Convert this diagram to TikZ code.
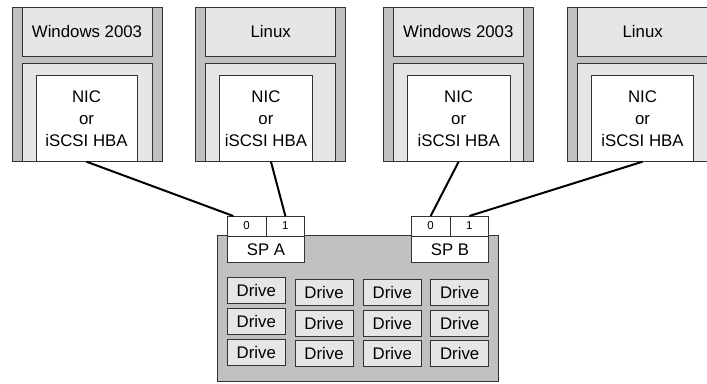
\documentclass[tikz,border=0pt]{standalone}
\usepackage{fontspec}
\setmainfont{Liberation Sans}
\definecolor{dk}{RGB}{192,192,192}
\definecolor{lt}{RGB}{230,230,230}
\definecolor{edge}{RGB}{50,50,50}
\begin{document}
\begin{tikzpicture}[x=1pt,y=-1pt,
  base/.style={draw=edge, line width=0.8pt, inner sep=0pt, outer sep=0pt, anchor=north west},
  strip/.style={base, fill=dk},
  panel/.style={base, fill=lt, font=\fontsize{16.8}{20}\selectfont},
  nic/.style={base, fill=white, align=center, font=\fontsize{16.8}{22}\selectfont},
  port/.style={base, fill=white, minimum width=38.7pt, minimum height=20pt, font=\fontsize{11.5}{13}\selectfont},
  splabel/.style={base, fill=white, minimum width=77.4pt, minimum height=26.7pt, font=\fontsize{16.8}{20}\selectfont},
  drive/.style={base, fill=lt, minimum width=58pt, minimum height=26pt, font=\fontsize{16.8}{20}\selectfont},
  wire/.style={line width=2pt, black}]
\useasboundingbox (0,0) rectangle (707,383);
% servers
\foreach \i/\x/\t/\w in {1/12/Windows 2003/101, 2/195.7/Linux/92.5, 3/383.3/Windows 2003/102.7, 4/567.7/Linux/101.6} {
  \node[strip, minimum width=150pt, minimum height=154.7pt] (s\i) at (\x,7) {};
  \node[panel, minimum width=130pt, minimum height=49pt] (t\i) at (\x+10,7) {\t};
  \node[panel, minimum width=130pt, minimum height=98.7pt] (p\i) at (\x+10,63) {};
  \node[nic, minimum width=\w pt, minimum height=86.7pt] (n\i) at (\x+24,75) {NIC\\or\\iSCSI HBA};
}
% storage array
\node[strip, minimum width=281pt, minimum height=146pt] (arr) at (217.3,235) {};
\node[port] (a0) at (227.3,216) {0};
\node[port] (a1) at (266,216) {1};
\node[splabel] (sa) at (227.3,236) {SP A};
\node[port] (b0) at (411.3,216) {0};
\node[port] (b1) at (450,216) {1};
\node[splabel] (sb) at (411.3,236) {SP B};
% drives
\foreach \c/\x/\y in {1/227.3/277.7, 2/295/279.3, 3/363.3/279.3, 4/430.7/279.3} {
  \foreach \r in {0,1,2} {
    \node[drive] (d\c\r) at (\x,\y+30.7*\r) {Drive};
  }
}
% connectors
\draw[wire] (n1.south) -- ([xshift=6pt]a0.north west);
\draw[wire] ([xshift=5pt]n2.south) -- (a1.north);
\draw[wire] (n3.south) -- (b0.north);
\draw[wire] (n4.south) -- (b1.north);
\end{tikzpicture}
\end{document}
